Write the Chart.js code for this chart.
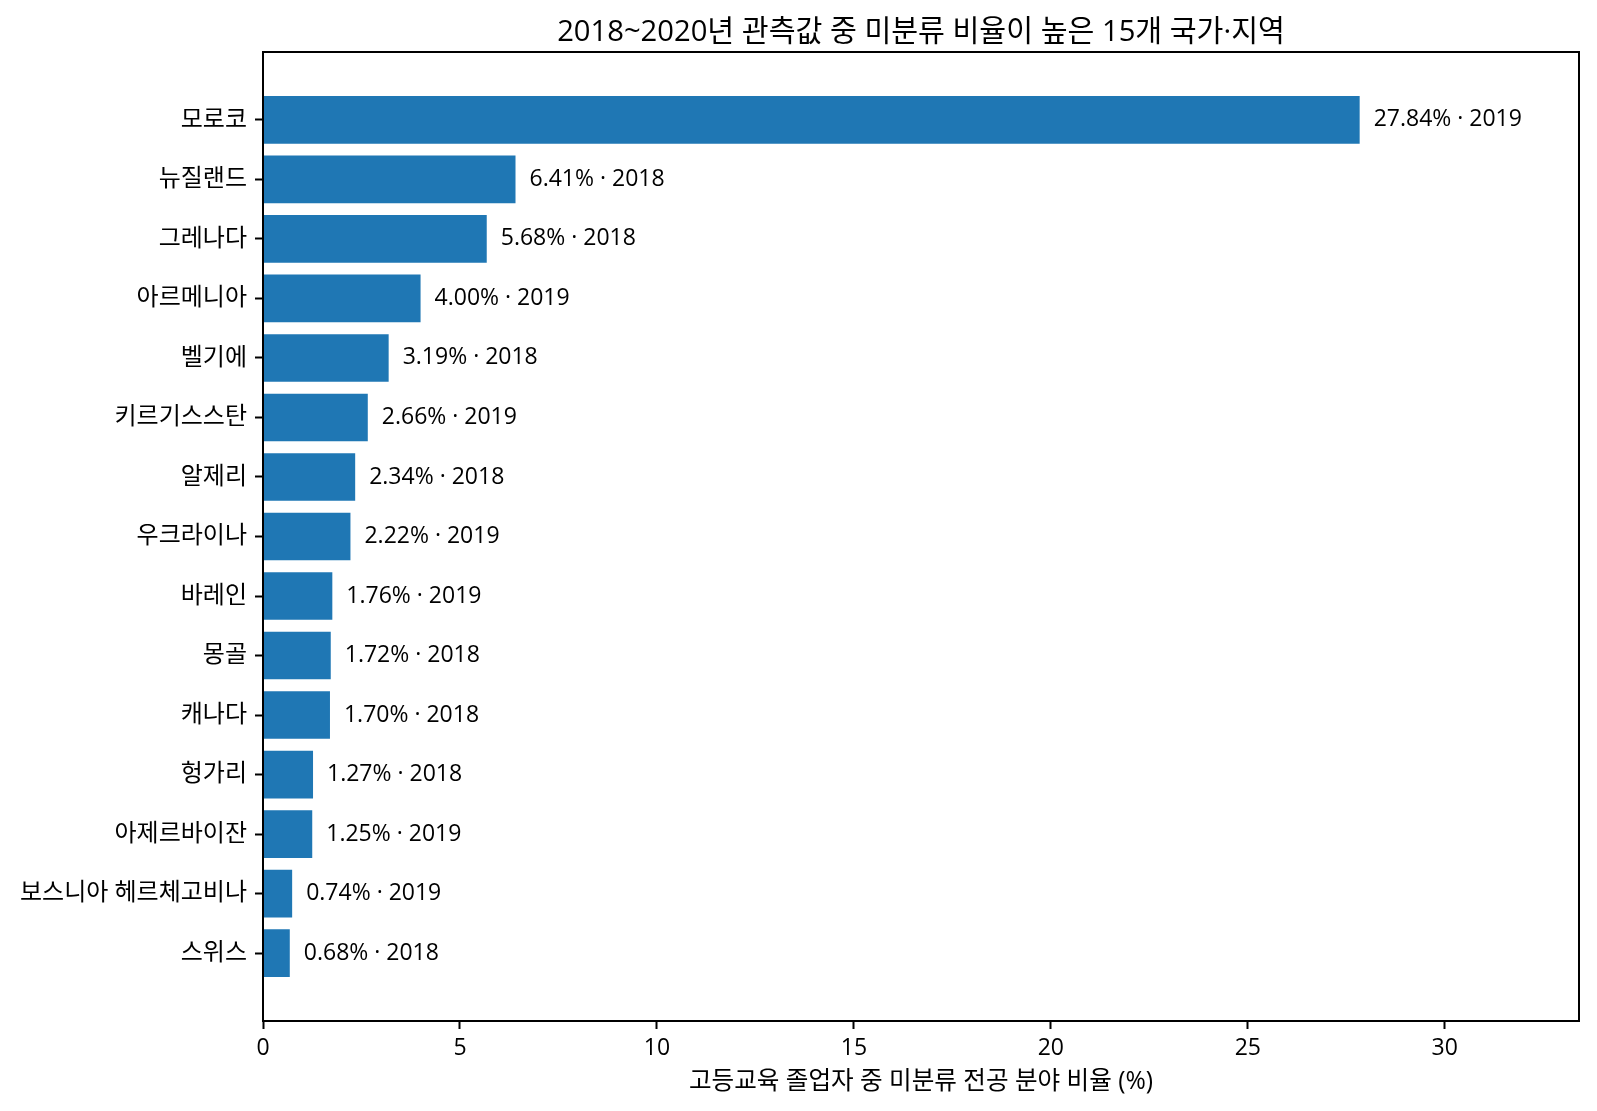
<!DOCTYPE html>
<html>
<head>
<meta charset="utf-8">
<script src="https://cdn.jsdelivr.net/npm/chart.js@4/dist/chart.umd.min.js"></script>
<style>
  html, body { margin: 0; padding: 0; background: #fff; }
  #wrap { width: 1597px; height: 1111px; }
</style>
</head>
<body>
<div id="wrap"><canvas id="c" width="1597" height="1111"></canvas></div>
<script>
const countries = ["모로코", "뉴질랜드", "그레나다", "아르메니아", "벨기에", "키르기스스탄", "알제리", "우크라이나", "바레인", "몽골", "캐나다", "헝가리", "아제르바이잔", "보스니아 헤르체고비나", "스위스"];
const shares = [27.84, 6.41, 5.68, 4.00, 3.19, 2.66, 2.34, 2.22, 1.76, 1.72, 1.70, 1.27, 1.25, 0.74, 0.68];
const years = ["2019", "2018", "2018", "2019", "2018", "2019", "2018", "2019", "2019", "2018", "2018", "2018", "2019", "2019", "2018"];
const xTicks = [0, 5, 10, 15, 20, 25, 30];
const titleText = "2018~2020년 관측값 중 미분류 비율이 높은 15개 국가·지역";
const xTitle = "고등교육 졸업자 중 미분류 전공 분야 비율 (%)";

const FONT = '"Open Sans", "Noto Sans CJK KR", sans-serif';
const xMax = Math.max(...shares) * 1.2;
const yMin = -0.4 - 0.05 * (countries.length - 1 + 0.8);
const yMax = countries.length - 1 + 0.4 + 0.05 * (countries.length - 1 + 0.8);

const framePlugin = {
  id: 'frame',
  afterDraw(chart) {
    const ctx = chart.ctx, a = chart.chartArea;
    ctx.save();
    ctx.strokeStyle = '#000';
    ctx.lineWidth = 2;
    ctx.strokeRect(a.left, a.top, a.right - a.left, a.bottom - a.top);
    ctx.fillStyle = '#000';
    ctx.font = '29.2px ' + FONT;
    ctx.textAlign = 'center';
    ctx.textBaseline = 'alphabetic';
    ctx.fillText(titleText, (a.left + a.right) / 2, a.top - 11);
    ctx.restore();
  }
};

const valueLabels = {
  id: 'valueLabels',
  afterDatasetsDraw(chart) {
    const ctx = chart.ctx;
    const meta = chart.getDatasetMeta(0);
    ctx.save();
    ctx.fillStyle = '#000';
    ctx.font = '23px ' + FONT;
    ctx.textAlign = 'left';
    ctx.textBaseline = 'middle';
    meta.data.forEach((bar, i) => {
      ctx.fillText(shares[i].toFixed(2) + '% · ' + years[i], bar.x + 14, bar.y);
    });
    ctx.restore();
  }
};

new Chart(document.getElementById('c'), {
  type: 'bar',
  data: {
    datasets: [{
      data: shares.map((v, i) => ({ x: v, y: i })),
      backgroundColor: '#1f77b4',
      borderWidth: 0,
      categoryPercentage: 1,
      barPercentage: 0.8
    }]
  },
  options: {
    indexAxis: 'y',
    responsive: false,
    animation: false,
    devicePixelRatio: 1,
    layout: { padding: { top: 52, right: 18, left: 0, bottom: 0 } },
    plugins: { legend: { display: false }, tooltip: { enabled: false }, title: { display: false } },
    scales: {
      x: {
        type: 'linear',
        min: 0,
        max: xMax,
        afterFit(s) { s.height = 90; },
        afterBuildTicks(s) { s.ticks = xTicks.map(v => ({ value: v })); },
        ticks: { color: '#000', font: { family: FONT, size: 23 }, padding: 6, includeBounds: false,
                 callback: v => String(v) },
        grid: { display: true, drawOnChartArea: false, drawTicks: true, tickLength: 8, tickWidth: 2, tickColor: '#000' },
        border: { display: true, color: '#000', width: 2 },
        title: { display: true, text: xTitle, color: '#000', font: { family: FONT, size: 24.6 }, padding: { top: 0, bottom: 14 } }
      },
      y: {
        type: 'linear',
        reverse: true,
        offset: false,
        min: yMin,
        max: yMax,
        afterFit(s) { s.width = 263; },
        afterBuildTicks(s) { s.ticks = countries.map((c, i) => ({ value: i })); },
        ticks: { color: '#000', font: { family: FONT, size: 24 }, padding: 8, autoSkip: false,
                 callback: v => countries[v] },
        grid: { display: true, offset: false, drawOnChartArea: false, drawTicks: true, tickLength: 8, tickWidth: 2, tickColor: '#000' },
        border: { display: true, color: '#000', width: 2 }
      }
    }
  },
  plugins: [framePlugin, valueLabels]
});
</script>
</body>
</html>
